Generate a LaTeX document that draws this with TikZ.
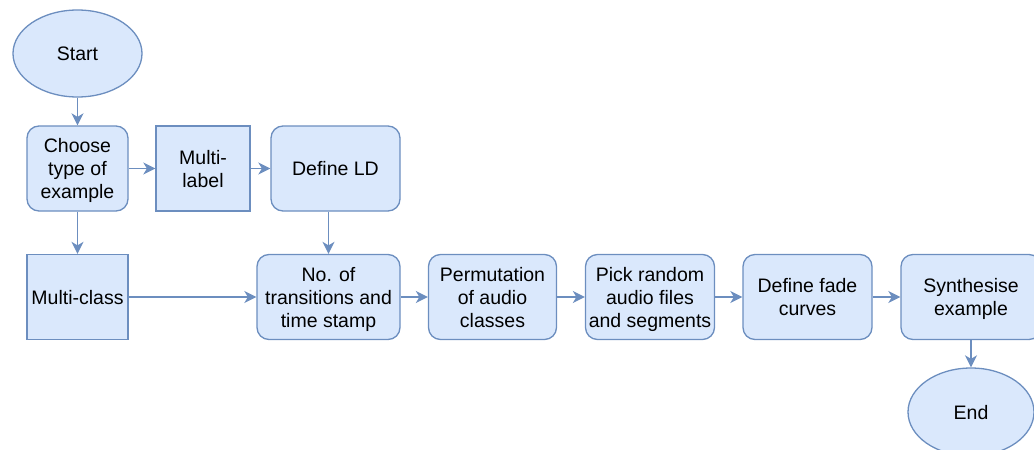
\documentclass[tikz,border=0pt]{standalone}
\usepackage{fontspec}
\setmainfont{Liberation Sans}
\usetikzlibrary{shapes.geometric,arrows.meta}
\definecolor{boxfill}{HTML}{DAE8FC}
\definecolor{boxline}{HTML}{6C8EBF}

\begin{document}
\begin{tikzpicture}[x=1pt,y=-1pt,
    every node/.style={draw=boxline,fill=boxfill,line width=1.3pt,inner sep=0pt,
      align=center,text depth=0pt,font=\fontsize{19.5}{23}\selectfont},
    term/.style={ellipse,minimum width=129pt,minimum height=87pt},
    proc/.style={rounded corners=12pt,minimum height=85pt},
    opt/.style={minimum height=85pt},
    flow/.style={draw=boxline,line width=1.6pt,-{Stealth[length=12pt,width=12pt,inset=3.5pt]}}]
    \clip (0,0) rectangle (1034,450);
    \node[term](start) at (77.5,53.5) {Start};
    \node[proc,minimum width=101pt](choose) at (77.5,168.5) {Choose\\type of\\example};
    \node[opt,minimum width=94pt](ml) at (203,168.5) {Multi-\\label};
    \node[proc,minimum width=129pt](ld) at (335.5,168.5) {Define LD};
    \node[opt,minimum width=101pt](mc) at (77.5,297) {Multi-class};
    \node[proc,minimum width=143pt](trans) at (328.5,297) {No. of\\transitions and\\time stamp};
    \node[proc,minimum width=128pt](perm) at (492.5,297) {Permutation\\of audio\\classes};
    \node[proc,minimum width=129pt](pick) at (650,297) {Pick random\\audio files\\and segments};
    \node[proc,minimum width=129pt](fade) at (807.5,297) {Define fade\\curves};
    \node[proc,minimum width=140pt](synth) at (971,297) {Synthesise\\example};
    \node[term,minimum width=126pt,minimum height=88pt](end) at (971,412) {End};
    \draw[flow] (start) -- (choose);
    \draw[flow] (choose) -- (ml);
    \draw[flow] (ml) -- (ld);
    \draw[flow] (choose) -- (mc);
    \draw[flow] (ld.south -| trans.north) -- (trans.north);
    \draw[flow] (mc) -- (trans);
    \draw[flow] (trans) -- (perm);
    \draw[flow] (perm) -- (pick);
    \draw[flow] (pick) -- (fade);
    \draw[flow] (fade) -- (synth);
    \draw[flow] (synth) -- (end);
  \end{tikzpicture}
\end{document}
